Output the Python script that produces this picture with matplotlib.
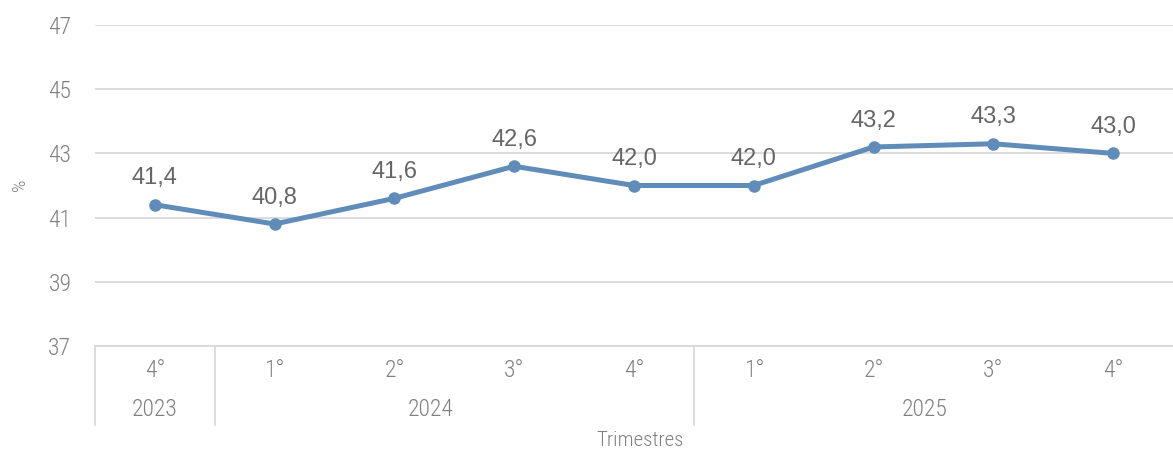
import matplotlib
matplotlib.use("Agg")
import matplotlib.pyplot as plt
import matplotlib.transforms as mtransforms

plt.rcParams['font.family'] = ['Roboto Condensed', 'Liberation Sans', 'DejaVu Sans']

# Data
quarters = ['4°', '1°', '2°', '3°', '4°', '1°', '2°', '3°', '4°']
values = [41.4, 40.8, 41.6, 42.6, 42.0, 42.0, 43.2, 43.3, 43.0]
years = ['2023', '2024', '2025']
year_pos = [0, 2.3, 6.43]        # where Excel put the year labels
year_breaks = [-0.5, 0.5, 4.5]   # group separators
yticks = [37, 39, 41, 43, 45, 47]

line_color = '#5f8cb8'
grid_color = '#d9d9d9'
tick_color = '#808080'
label_color = '#666666'

fig = plt.figure(figsize=(11.73, 4.5), dpi=100)
ax = fig.add_axes([95 / 1173, 1 - 346 / 450, 1 - 95 / 1173, 321 / 450])

x = list(range(len(values)))
ax.plot(x, values, color=line_color, lw=3.6, marker='o', ms=8, zorder=3)

# data labels use a plain Arial-like face
for xi, v in zip(x, values):
    ax.annotate(f'{v:.1f}'.replace('.', ','), (xi, v), xytext=(0, 11),
                textcoords='offset points', ha='center', va='bottom',
                fontsize=17, color=label_color,
                family=['Liberation Sans', 'DejaVu Sans'])

ax.set_xlim(-0.5, len(values) - 0.5)
ax.set_ylim(37, 47)
ax.set_yticks(yticks)
ax.tick_params(axis='y', length=0, pad=17, labelsize=17, labelcolor=tick_color)
for lbl in ax.get_yticklabels():
    lbl.set_fontweight('light')
ax.set_xticks([])
ax.grid(axis='y', color=grid_color, lw=1.3)
ax.set_axisbelow(True)
for s in ['top', 'right', 'left']:
    ax.spines[s].set_visible(False)
ax.spines['bottom'].set_color(grid_color)
ax.spines['bottom'].set_linewidth(1.3)

trans = mtransforms.blended_transform_factory(ax.transData, ax.transAxes)
for q_x, q in zip(x, quarters):
    ax.text(q_x, -0.075, q, transform=trans, ha='center', va='center',
            fontsize=17, color=tick_color, fontweight='light')
for yp, yr in zip(year_pos, years):
    ax.text(yp, -0.198, yr, transform=trans, ha='center', va='center',
            fontsize=17, color=tick_color, fontweight='light')
for b in year_breaks:
    ax.plot([b, b], [0, -0.246], transform=trans, color=grid_color,
            lw=1.3, clip_on=False)

fig.text(640 / 1173, 1 - 440 / 450, 'Trimestres', ha='center', va='center',
         fontsize=15, color=tick_color, fontweight='light')
fig.text(20 / 1173, 1 - 185 / 450, '%', ha='center', va='center',
         rotation=90, fontsize=14, color=tick_color, fontweight='light')

fig.savefig('out.png', dpi=100)
